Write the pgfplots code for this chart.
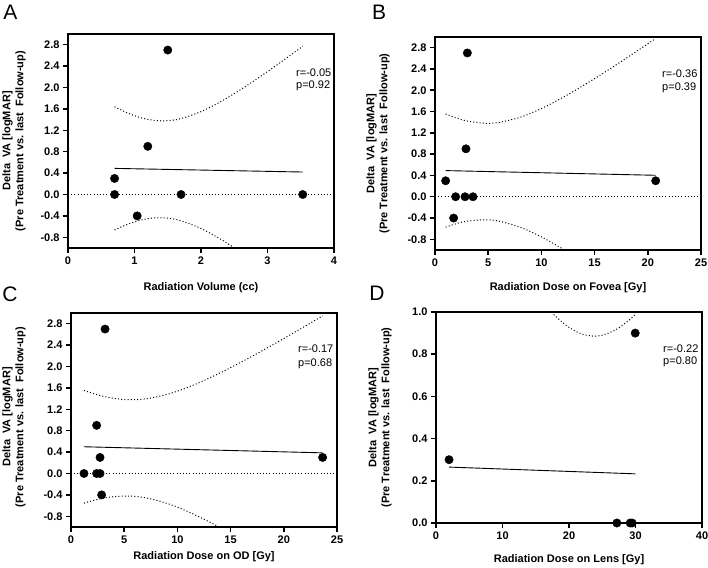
\documentclass[border=0pt]{standalone}
\usepackage{fontspec}
\setmainfont{Liberation Sans}
\usepackage{pgfplots}
\pgfplotsset{compat=1.18}

\pgfplotsset{
  panel/.style={
    scale only axis, width=266pt,
    axis line style={line width=1.8pt},
    tick align=outside, tick pos=left, major tick length=5pt,
    tick style={black, line width=1.5pt},
    tick label style={font=\fontsize{11}{13}\selectfont\bfseries},
  },
  yva/.style={
    ymin=-1, ymax=3,
    ytick={-0.8,-0.4,0,0.4,0.8,1.2,1.6,2.0,2.4,2.8},
    yticklabels={-0.8,-0.4,0.0,0.4,0.8,1.2,1.6,2.0,2.4,2.8},
  },
  pts/.style={only marks, mark=*, mark size=4.2pt, black},
  fit/.style={black, line width=0.9pt, mark=none},
  band/.style={black, line width=1pt, dash pattern=on 1pt off 2.2pt, mark=none, smooth},
  zero/.style={black, line width=1pt, dash pattern=on 1pt off 2.2pt, mark=none},
}
\newcommand{\lab}{\fontsize{11}{13}\selectfont\bfseries}
\newcommand{\ylab}{Delta\ \ VA [logMAR]\\(Pre Treatment vs. last\ \ Follow-up)}

\begin{document}
\begin{tikzpicture}
\path[use as bounding box] (0pt,0pt) rectangle (708pt,567pt);

% A
\begin{axis}[panel, yva, at={(68pt,319pt)}, anchor=south west, height=214pt,
  xmin=0, xmax=4, xtick={0,1,2,3,4}, xticklabels={0,1,2,3,4}]
\addplot[zero] coordinates {(0,0)(4,0)};
\addplot[band] coordinates {(0.7,1.640)(0.9,1.521)(1.1,1.433)(1.3,1.385)(1.5,1.380)(1.7,1.419)(2.0,1.549)(2.3,1.738)(2.6,1.964)(2.9,2.212)(3.2,2.473)(3.53,2.771)};
\addplot[band] coordinates {(0.7,-0.664)(0.9,-0.555)(1.1,-0.477)(1.3,-0.437)(1.5,-0.442)(1.7,-0.491)(2.0,-0.635)(2.3,-0.838)(2.6,-1.078)};
\addplot[fit] coordinates {(0.7,0.488)(3.53,0.42)};
\addplot[pts] coordinates {(1.5,2.7)(1.2,0.9)(0.7,0.3)(0.7,0)(1.7,0)(3.53,0)(1.04,-0.4)};
\end{axis}

% B
\begin{axis}[panel, yva, at={(435pt,317pt)}, anchor=south west, height=213pt,
  xmin=0, xmax=25, xtick={0,5,10,15,20,25}, xticklabels={0,5,10,15,20,25}]
\addplot[zero] coordinates {(0,0)(25,0)};
\addplot[band] coordinates {(1,1.553)(2,1.479)(3,1.423)(4.7,1.380)(6,1.396)(8,1.492)(10,1.656)(12,1.863)(14,2.096)(16,2.345)(18,2.605)(20.74,2.972)};
\addplot[band] coordinates {(1,-0.571)(2,-0.505)(3,-0.459)(4.7,-0.432)(6,-0.458)(8,-0.572)(10,-0.754)(12,-0.979)(13,-1.102)};
\addplot[fit] coordinates {(1.0,0.491)(20.74,0.403)};
\addplot[pts] coordinates {(3.04,2.7)(2.91,0.9)(1.0,0.3)(20.74,0.3)(1.94,0)(2.82,0)(3.57,0)(1.75,-0.4)};
\end{axis}

% C
\begin{axis}[panel, yva, at={(71pt,40pt)}, anchor=south west, height=214pt,
  xmin=0, xmax=25, xtick={0,5,10,15,20,25}, xticklabels={0,5,10,15,20,25}]
\addplot[zero] coordinates {(0,0)(25,0)};
\addplot[band] coordinates {(1.22,1.554)(2,1.501)(3,1.445)(4,1.405)(5.4,1.379)(7,1.395)(9,1.477)(11,1.612)(13,1.784)(15,1.979)(17,2.189)(19,2.410)(21,2.638)(23.65,2.946)};
\addplot[band] coordinates {(1.22,-0.554)(2,-0.509)(3,-0.463)(4,-0.433)(5.4,-0.421)(7,-0.453)(9,-0.557)(11,-0.712)(13,-0.904)(14,-1.009)};
\addplot[fit] coordinates {(1.22,0.5)(23.65,0.386)};
\addplot[pts] coordinates {(3.2,2.7)(2.41,0.9)(2.73,0.3)(23.65,0.3)(1.22,0)(2.41,0)(2.73,0)(2.88,-0.4)};
\end{axis}

% D
\begin{axis}[panel, at={(436pt,44pt)}, anchor=south west, height=211pt, clip=false,
  xmin=0, xmax=40, xtick={0,10,20,30,40}, xticklabels={0,10,20,30,40},
  ymin=0, ymax=1, ytick={0,0.2,0.4,0.6,0.8,1.0}, yticklabels={0.0,0.2,0.4,0.6,0.8,1.0}]
\addplot[band] coordinates {(17.4,1.0)(18,0.979)(20,0.927)(22,0.895)(23.6,0.886)(25,0.890)(27,0.915)(29,0.960)(29.96,0.988)};
\addplot[fit] coordinates {(1.96,0.265)(29.96,0.233)};
\addplot[pts] coordinates {(1.96,0.3)(29.96,0.9)(27.2,0)(29.2,0)(29.5,0)};
\end{axis}

% axis titles
\node[rotate=90, align=center, font=\lab] at (14pt,426pt) {\ylab};
\node[rotate=90, align=center, font=\lab] at (378pt,423.5pt) {\ylab};
\node[rotate=90, align=center, font=\lab] at (14pt,150pt) {\ylab};
\node[rotate=90, align=center, font=\lab] at (380pt,149.5pt) {\ylab};
\node[font=\lab] at (201pt,279pt) {Radiation Volume (cc)};
\node[font=\lab] at (568pt,279pt) {Radiation Dose on Fovea [Gy]};
\node[font=\lab] at (204pt,10.3pt) {Radiation Dose on OD [Gy]};
\node[font=\lab] at (569pt,7pt) {Radiation Dose on Lens [Gy]};

% statistics
\begin{scope}[every node/.style={anchor=west, inner sep=0pt, font=\fontsize{11}{13}\selectfont}]
\node at (296pt,494pt) {r=-0.05}; \node at (296pt,481pt) {p=0.92};
\node at (662pt,493pt) {r=-0.36}; \node at (662pt,479pt) {p=0.39};
\node at (298pt,218pt) {r=-0.17}; \node at (298pt,203pt) {p=0.68};
\node at (663pt,218pt) {r=-0.22}; \node at (663pt,205pt) {p=0.80};
\end{scope}

% panel letters
\begin{scope}[every node/.style={font=\fontsize{21}{23}\selectfont, inner sep=0pt}]
\node at (10.5pt,554.5pt) {A};
\node at (379pt,554.5pt) {B};
\node at (10pt,272.5pt) {C};
\node at (377pt,273.5pt) {D};
\end{scope}
\end{tikzpicture}
\end{document}
